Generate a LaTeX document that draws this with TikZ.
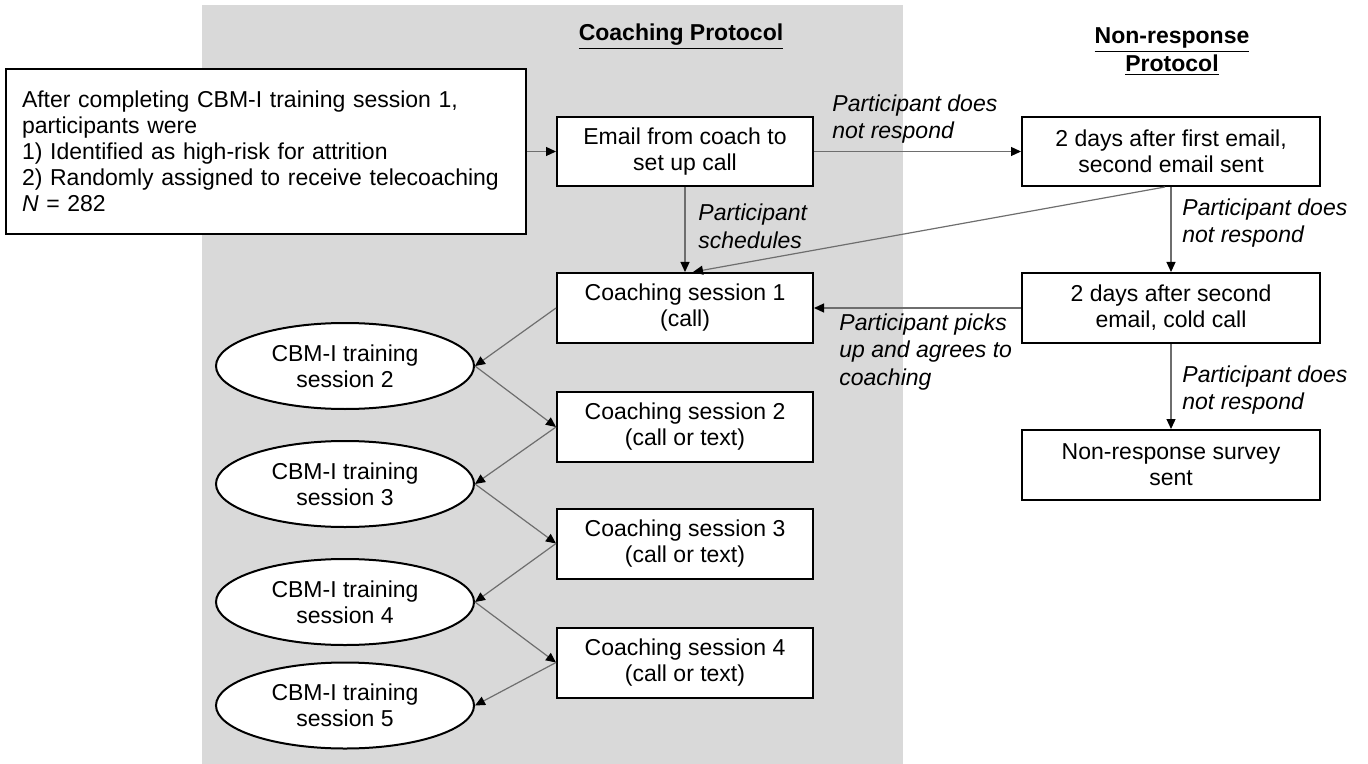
\documentclass[tikz,border=0pt]{standalone}
\usepackage{fontspec}
\setmainfont{Liberation Sans}
\usetikzlibrary{arrows.meta,shapes.geometric}
\definecolor{bg}{RGB}{217,217,217}
\definecolor{lnc}{RGB}{110,110,110}
\begin{document}
\begin{tikzpicture}[x=0.5pt,y=-0.5pt,
  every node/.style={font=\fontsize{11.5}{13}\selectfont},
  box/.style={draw,line width=1pt,fill=white,minimum width=128pt,minimum height=35pt,align=center,inner sep=2pt},
  nrbox/.style={box,minimum width=149pt},
  oval/.style={ellipse,draw,line width=1pt,fill=white,minimum width=129pt,minimum height=43pt,align=center,inner sep=0pt},
  lbl/.style={anchor=west,align=left,font=\fontsize{11.5}{13.8}\selectfont\itshape,inner sep=0pt},
  conn/.style={draw=lnc,line width=0.6pt,-{Triangle[length=5pt,width=4.5pt,color=black]}},
  title/.style={font=\fontsize{11.5}{14}\selectfont\bfseries,align=center,inner sep=0pt}
]
\useasboundingbox (0,0) rectangle (1368,764);
\fill[bg] (202,5) rectangle (903,764);

\node[title] (t1) at (681,37) {\underline{Coaching Protocol}};
\node[title] (t2) at (1172,52) {\underline{Non-response}\\\underline{Protocol}};

\node[box,minimum width=260pt,minimum height=82.5pt,text width=244pt,align=left,inner xsep=8pt] (start) at (266,151.5)
  {After completing CBM-I training session 1,\\participants were\\1) Identified as high-risk for attrition\\2) Randomly assigned to receive telecoaching\\\textit{N} = 282};

\node[box,minimum height=34.5pt] (email) at (685,151.5) {Email from coach to\\set up call};
\node[box] (cs1) at (685,308) {Coaching session 1\\(call)};
\node[box] (cs2) at (685,427) {Coaching session 2\\(call or text)};
\node[box] (cs3) at (685,543.5) {Coaching session 3\\(call or text)};
\node[box] (cs4) at (685,662.5) {Coaching session 4\\(call or text)};

\node[oval] (e2) at (345,366) {CBM-I training\\session 2};
\node[oval] (e3) at (345,484) {CBM-I training\\session 3};
\node[oval] (e4) at (345,602) {CBM-I training\\session 4};
\node[oval] (e5) at (345,705.5) {CBM-I training\\session 5};

\node[nrbox,minimum height=34.5pt] (nr1) at (1171,151.5) {2 days after first email,\\second email sent};
\node[nrbox] (nr2) at (1171,308) {2 days after second\\email, cold call};
\node[nrbox] (nr3) at (1171,465) {Non-response survey\\sent};

\node[lbl] (l1) at (832,119) {Participant does\\not respond};
\node[lbl] (l2) at (698,226) {Participant\\schedules};
\node[lbl] (l3) at (1182,223) {Participant does\\not respond};
\node[lbl] (l4) at (839,352) {Participant picks\\up and agrees to\\coaching};
\node[lbl] (l5) at (1182,390) {Participant does\\not respond};

\draw[conn] (start.east) -- (email.west);
\draw[conn] (email.east) -- (nr1.west);
\draw[conn] (email.south) -- (cs1.north);
\draw[conn] ([xshift=-3pt]nr1.south) -- ([xshift=4pt]cs1.north);
\draw[conn] (nr1.south) -- (nr2.north);
\draw[conn] (nr2.west) -- (cs1.east);
\draw[conn] (nr2.south) -- (nr3.north);

\draw[conn] (cs1.west) -- (e2.east);
\draw[conn] (e2.east) -- (cs2.west);
\draw[conn] (cs2.west) -- (e3.east);
\draw[conn] (e3.east) -- (cs3.west);
\draw[conn] (cs3.west) -- (e4.east);
\draw[conn] (e4.east) -- (cs4.west);
\draw[conn] (cs4.west) -- (e5.east);
\end{tikzpicture}
\end{document}
